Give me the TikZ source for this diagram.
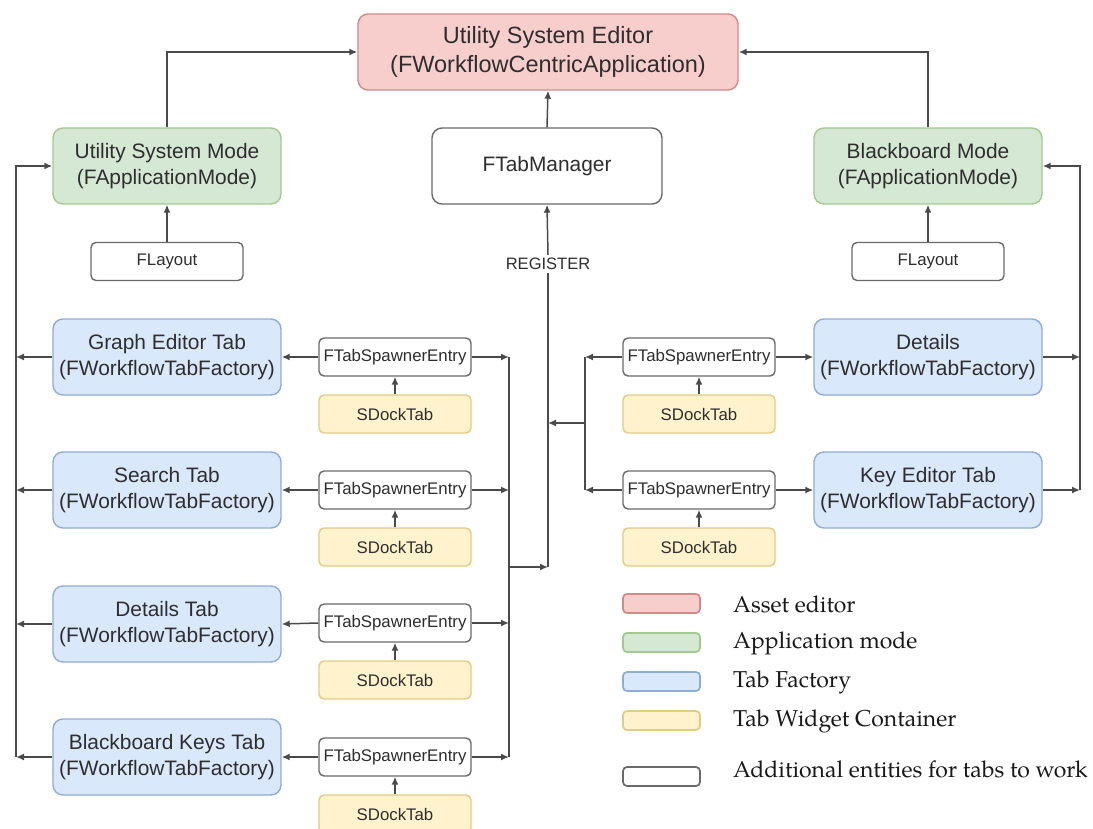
\documentclass[tikz,border=0pt]{standalone}
\usepackage{fontspec}
\setmainfont{Liberation Sans}
\newfontfamily\legendfont{texgyrepagella-regular.otf}
\usetikzlibrary{arrows.meta}

\definecolor{txt}{HTML}{2E2E2E}
\definecolor{lineclr}{HTML}{4A4A4A}
\definecolor{redfill}{HTML}{F8CECC}
\definecolor{redline}{HTML}{D08A88}
\definecolor{greenfill}{HTML}{D5E8D4}
\definecolor{greenline}{HTML}{A3C98F}
\definecolor{bluefill}{HTML}{DAE8FC}
\definecolor{blueline}{HTML}{8FACD6}
\definecolor{yellowfill}{HTML}{FFF2CC}
\definecolor{yellowline}{HTML}{E3CB84}
\definecolor{grayline}{HTML}{6A6A6A}

\tikzset{
  bigbox/.style={rounded corners=10pt, line width=1.4pt, align=center, text=txt,
    inner sep=0pt, minimum width=228pt, minimum height=76pt,
    font=\fontsize{20.9pt}{26.5pt}\selectfont},
  editorbox/.style={bigbox, draw=redline, fill=redfill, minimum width=380pt,
    font=\fontsize{23.5pt}{29pt}\selectfont},
  modebox/.style={bigbox, draw=greenline, fill=greenfill},
  tabbox/.style={bigbox, draw=blueline, fill=bluefill},
  plainbox/.style={bigbox, draw=grayline, fill=white, minimum width=230pt},
  smallbox/.style={rounded corners=5pt, line width=1.4pt, draw=grayline, fill=white,
    text=txt, inner sep=0pt, minimum width=152pt, minimum height=38pt,
    font=\fontsize{16.8pt}{20pt}\selectfont},
  dockbox/.style={smallbox, draw=yellowline, fill=yellowfill},
  swatch/.style={rounded corners=4pt, line width=1.7pt, minimum width=77pt,
    minimum height=19pt, inner sep=0pt},
  legendtext/.style={anchor=west, inner sep=0pt, text=black!90,
    font=\legendfont\fontsize{23pt}{28pt}\selectfont},
  wire/.style={line width=1.5pt, draw=lineclr},
  conn/.style={wire, -{Latex[length=8pt,width=7pt]}},
}

\begin{document}
\begin{tikzpicture}[x=1pt, y=-1pt]
  \clip (0,0) rectangle (1093,829);
  \fill[white] (0,0) rectangle (1093,829);

  % bus positions
  \coordinate (busL) at (16,0);
  \coordinate (busM) at (509,0);
  \coordinate (busR) at (585,0);
  \coordinate (busRR) at (1080,0);
  \coordinate (regJ) at (548,567);
  \coordinate (regR) at (548,423);

  % top level
  \node[editorbox] (editor) at (548,52) {Utility System Editor\\(FWorkflowCentricApplication)};
  \node[plainbox] (mgr) at (547,166) {FTabManager};
  \node[modebox] (modeL) at (167,166) {Utility System Mode\\(FApplicationMode)};
  \node[modebox] (modeR) at (928,166) {Blackboard Mode\\(FApplicationMode)};
  \node[smallbox] (layL) at (167,261.5) {FLayout};
  \node[smallbox] (layR) at (928,261.5) {FLayout};
  \node[text=txt, font=\fontsize{16.5pt}{20pt}\selectfont, inner sep=3pt] (reg) at (548,264) {REGISTER};

  % left column of tabs
  \node[tabbox] (tabL1) at (167,357) {Graph Editor Tab\\(FWorkflowTabFactory)};
  \node[tabbox] (tabL2) at (167,490) {Search Tab\\(FWorkflowTabFactory)};
  \node[tabbox] (tabL3) at (167,624) {Details Tab\\(FWorkflowTabFactory)};
  \node[tabbox] (tabL4) at (167,757) {Blackboard Keys Tab\\(FWorkflowTabFactory)};

  \foreach \i/\y in {1/357, 2/490, 3/623, 4/757} {
    \node[smallbox] (spL\i) at (395,\y) {FTabSpawnerEntry};
    \node[dockbox] (dkL\i) at (395,\y+57) {SDockTab};
  }

  % right column of tabs
  \node[tabbox] (tabR1) at (928,357) {Details\\(FWorkflowTabFactory)};
  \node[tabbox] (tabR2) at (928,490) {Key Editor Tab\\(FWorkflowTabFactory)};
  \foreach \i/\y in {1/357, 2/490} {
    \node[smallbox] (spR\i) at (699,\y) {FTabSpawnerEntry};
    \node[dockbox] (dkR\i) at (699,\y+57) {SDockTab};
  }

  % connectors to the editor
  \draw[conn] (mgr.north) -- (editor.south);
  \draw[conn] (modeL.north) |- (editor.west);
  \draw[conn] (modeR.north) |- (editor.east);
  \draw[conn] (layL.north) -- (modeL.south);
  \draw[conn] (layR.north) -- (modeR.south);

  % registration trunk
  \draw[wire] (regJ) -- (reg.south);
  \draw[conn] (reg.north) -- (mgr.south);

  % left side wiring
  \foreach \i in {1,2,3,4} {
    \draw[conn] (tabL\i.west) -- (tabL\i.west -| busL);
    \draw[conn] (spL\i.west) -- (tabL\i.east);
    \draw[conn] (spL\i.east) -- (spL\i.east -| busM);
    \draw[conn] (dkL\i.north) -- (spL\i.south);
  }
  \draw[conn] (tabL4.west -| busL) |- (modeL.west);
  \draw[wire] (spL1.east -| busM) -- (spL4.east -| busM);
  \draw[conn] (busM |- regJ) -- (regJ);

  % right side wiring
  \foreach \i in {1,2} {
    \draw[conn] (spR\i.east) -- (tabR\i.west);
    \draw[conn] (spR\i.west) -- (spR\i.west -| busR);
    \draw[conn] (dkR\i.north) -- (spR\i.south);
    \draw[conn] (tabR\i.east) -- (tabR\i.east -| busRR);
  }
  \draw[wire] (spR1.west -| busR) -- (spR2.west -| busR);
  \draw[conn] (busR |- regR) -- (regR);
  \draw[conn] (tabR2.east -| busRR) |- (modeR.east);

  % legend
  \node[swatch, draw=redline, fill=redfill] (lg1) at (661.5,603.5) {};
  \node[swatch, draw=greenline, fill=greenfill] (lg2) at (661.5,642.5) {};
  \node[swatch, draw=blueline, fill=bluefill] (lg3) at (661.5,681.5) {};
  \node[swatch, draw=yellowline, fill=yellowfill] (lg4) at (661.5,720.5) {};
  \node[swatch, draw=grayline, fill=white] (lg5) at (661.5,776.5) {};
  \node[legendtext] (lt1) at (733,604) {Asset editor};
  \node[legendtext] (lt2) at (733,643) {Application mode};
  \node[legendtext] (lt3) at (733,682) {Tab Factory};
  \node[legendtext] (lt4) at (733,721) {Tab Widget Container};
  \node[legendtext] (lt5) at (733,769) {Additional entities for tabs to work};
\end{tikzpicture}
\end{document}
